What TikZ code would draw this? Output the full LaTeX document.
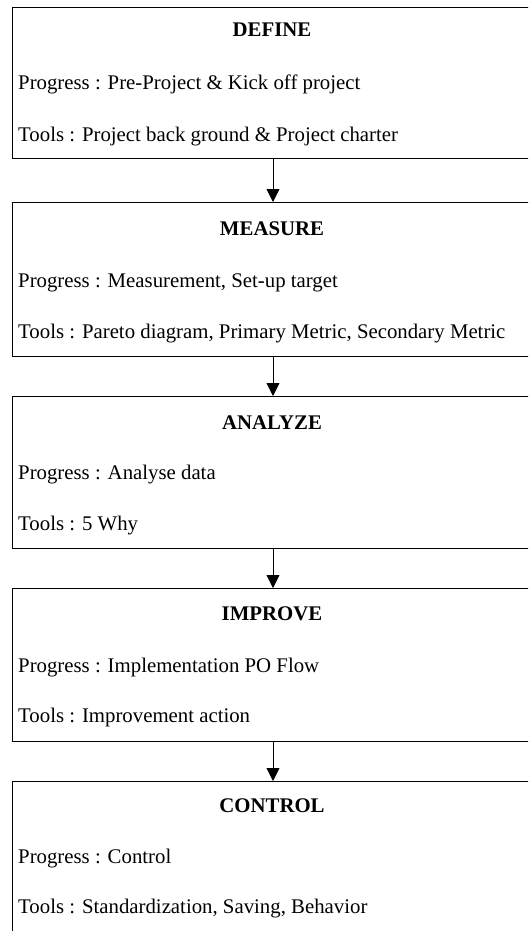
\documentclass[tikz,border=0pt]{standalone}
\usepackage{fontspec}
\setmainfont{Liberation Serif}
\usetikzlibrary{arrows.meta}
\begin{document}
\begin{tikzpicture}[x=1pt,y=-1pt,
  stagebox/.style={draw=black,line width=0.9pt,rectangle,anchor=north west,minimum width=540pt,minimum height=151pt,inner sep=0pt},
  lastbox/.style={stagebox,minimum height=200pt},
  title/.style={anchor=base,font=\fontsize{20.8}{24}\selectfont\bfseries,inner sep=0pt},
  body/.style={anchor=base west,font=\fontsize{20.8}{24}\selectfont,inner sep=0pt},
  arr/.style={draw=black,line width=0.9pt,-{Triangle[width=13pt,length=13pt]}}]
\useasboundingbox (0,0) rectangle (528,931);
\clip (0,0) rectangle (528,931);
\coordinate (ax) at (273,0);
% boxes
\node[stagebox] (b1) at (12,7) {};
\node[stagebox,minimum height=154pt] (b2) at (12,202) {};
\node[stagebox,minimum height=152pt] (b3) at (12,396) {};
\node[stagebox,minimum height=153pt] (b4) at (12,588) {};
\node[lastbox] (b5) at (12,781) {};
% texts
\node[title] (t1) at (272,37) {DEFINE};
\node[body] (p1) at (18,90) {Progress : Pre-Project \& Kick off project};
\node[body] (o1) at (18,141) {Tools : Project back ground \& Project charter};
\node[title] (t2) at (272,235) {MEASURE};
\node[body] (p2) at (18,287) {Progress : Measurement, Set-up target};
\node[body] (o2) at (18,338) {Tools : Pareto diagram, Primary Metric, Secondary Metric};
\node[title] (t3) at (272,429) {ANALYZE};
\node[body] (p3) at (18,479) {Progress : Analyse data};
\node[body] (o3) at (18,530) {Tools : 5 Why};
\node[title] (t4) at (272,620) {IMPROVE};
\node[body] (p4) at (18,672) {Progress : Implementation PO Flow};
\node[body] (o4) at (18,722) {Tools : Improvement action};
\node[title] (t5) at (272,812) {CONTROL};
\node[body] (p5) at (18,863) {Progress : Control};
\node[body] (o5) at (18,913) {Tools : Standardization, Saving, Behavior};
% arrows
\draw[arr] (b1.south -| ax) -- (b2.north -| ax);
\draw[arr] (b2.south -| ax) -- (b3.north -| ax);
\draw[arr] (b3.south -| ax) -- (b4.north -| ax);
\draw[arr] (b4.south -| ax) -- (b5.north -| ax);
\end{tikzpicture}
\end{document}
